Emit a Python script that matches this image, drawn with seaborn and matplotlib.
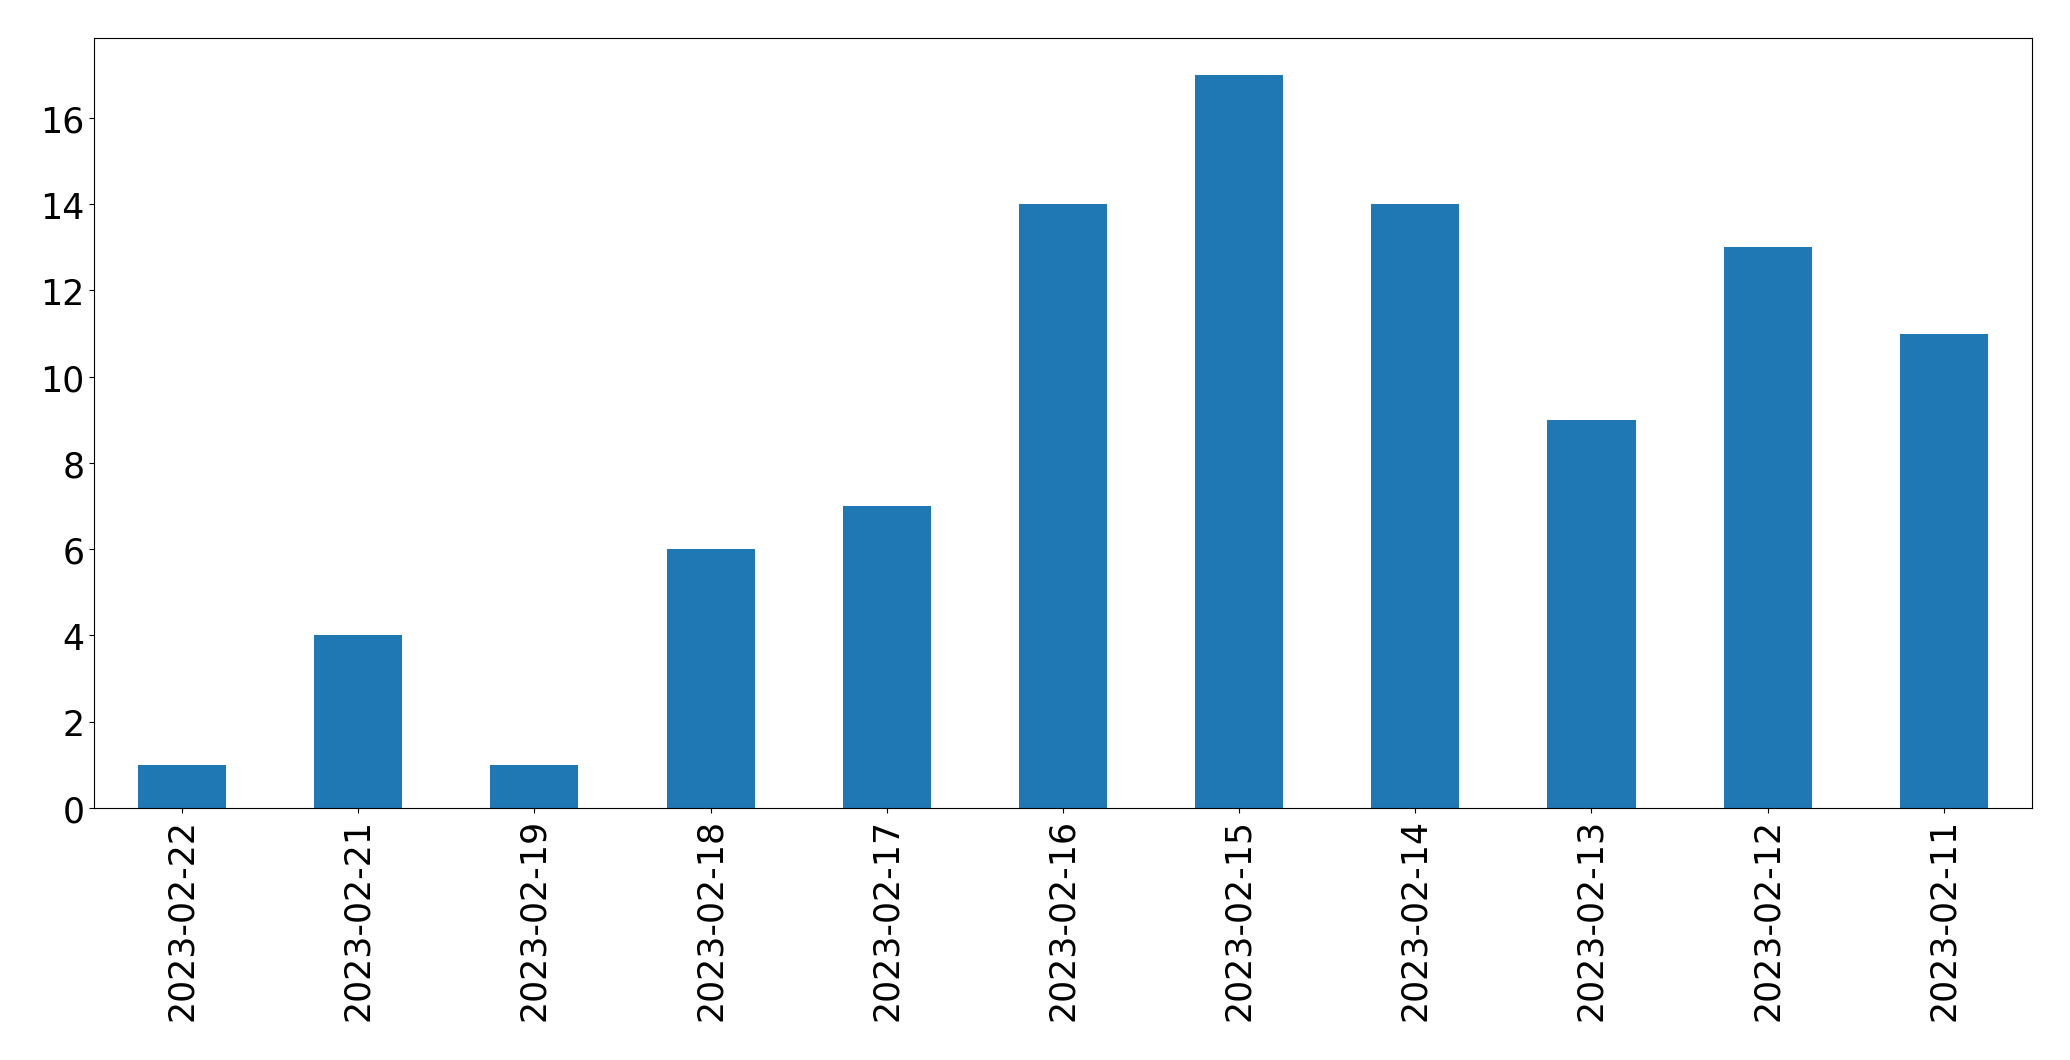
import seaborn as sns
import matplotlib.pyplot as plt
import pandas as pd

dates = ['2023-02-22', '2023-02-21', '2023-02-19', '2023-02-18', '2023-02-17',
         '2023-02-16', '2023-02-15', '2023-02-14', '2023-02-13', '2023-02-12',
         '2023-02-11']
counts = [1, 4, 1, 6, 7, 14, 17, 14, 9, 13, 11]

df = pd.DataFrame({'date': dates, 'count': counts})

fig = plt.figure(figsize=(20.709, 10.609), dpi=100)
ax = fig.add_axes([94 / 2071, 1 - 809 / 1061, (2032 - 94) / 2071, (809 - 39) / 1061])

sns.barplot(data=df, x='date', y='count', color='#1f77b4', saturation=1,
            width=0.5, ax=ax)

ax.set_xlim(-0.5, len(dates) - 0.5)
ax.set_ylim(0, max(counts) * 1.05)
ax.set_xlabel('')
ax.set_ylabel('')
ax.tick_params(axis='both', labelsize=25)
ax.tick_params(axis='x', rotation=90)

fig.savefig('out.png', dpi=100)
